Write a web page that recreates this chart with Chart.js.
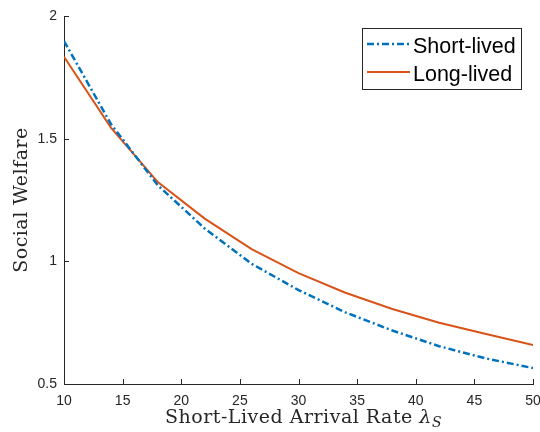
<!DOCTYPE html>
<html>
<head>
<meta charset="utf-8">
<script src="https://cdn.jsdelivr.net/npm/chart.js@4.4.1/dist/chart.umd.min.js"></script>
<style>
  html, body { margin: 0; padding: 0; background: #fff; }
  #wrap { width: 540px; height: 432px; }
</style>
</head>
<body>
<div id="wrap"><canvas id="myChart" width="540" height="432"></canvas></div>
<script>
// arrival rates sampled in the figure
const arrivalRates = [10, 14, 18, 22, 26, 30, 34, 38, 42, 46, 50];
const shortLived = [1.898, 1.560, 1.310, 1.134, 0.990, 0.883, 0.792, 0.718, 0.654, 0.604, 0.565];
const longLived = [1.834, 1.545, 1.323, 1.174, 1.050, 0.952, 0.872, 0.806, 0.750, 0.704, 0.659];
const seriesNames = ['Short-lived', 'Long-lived'];
const xTicks = [10, 15, 20, 25, 30, 35, 40, 45, 50];
const yTicks = [0.5, 1, 1.5, 2];

const axisColor = '#262626';
const tickFont = { family: 'Liberation Sans, Arial, sans-serif', size: 14 };
const serif = '"DejaVu Serif", "Liberation Serif", serif';

const toPoints = (ys) => ys.map((y, i) => ({ x: arrivalRates[i], y: y }));

// MATLAB style inward tick marks
const innerTicks = {
  id: 'innerTicks',
  afterDraw(chart) {
    const { ctx, chartArea, scales } = chart;
    ctx.save();
    ctx.strokeStyle = axisColor;
    ctx.lineWidth = 1;
    ctx.beginPath();
    xTicks.forEach((v) => {
      const px = Math.round(scales.x.getPixelForValue(v)) + 0.5;
      ctx.moveTo(px, chartArea.bottom);
      ctx.lineTo(px, chartArea.bottom - 5);
    });
    yTicks.forEach((v) => {
      const py = Math.round(scales.y.getPixelForValue(v)) + 0.5;
      ctx.moveTo(chartArea.left, py);
      ctx.lineTo(chartArea.left + 5, py);
    });
    ctx.stroke();
    ctx.restore();
  },
};

// axis titles, x one has the lambda_S subscript
const axisTitles = {
  id: 'axisTitles',
  afterDraw(chart) {
    const { ctx, chartArea } = chart;
    ctx.save();
    ctx.fillStyle = axisColor;
    ctx.textBaseline = 'alphabetic';
    ctx.letterSpacing = '0.5px';

    const main = 'Short-Lived Arrival Rate ';
    ctx.font = '19px ' + serif;
    const w1 = ctx.measureText(main).width;
    ctx.font = 'italic 19px ' + serif;
    const w2 = ctx.measureText('\u03bb').width;
    ctx.font = 'italic 14px ' + serif;
    const w3 = ctx.measureText('S').width;
    let x = (chartArea.left + chartArea.right) / 2 - (w1 + w2 + w3) / 2 + 5;
    const base = 423;
    ctx.textAlign = 'left';
    ctx.font = '19px ' + serif;
    ctx.fillText(main, x, base);
    x += w1;
    ctx.font = 'italic 19px ' + serif;
    ctx.fillText('\u03bb', x, base);
    x += w2;
    ctx.font = 'italic 14px ' + serif;
    ctx.fillText('S', x, base + 4);

    ctx.translate(27, (chartArea.top + chartArea.bottom) / 2);
    ctx.rotate(-Math.PI / 2);
    ctx.textAlign = 'center';
    ctx.font = '19px ' + serif;
    ctx.fillText('Social Welfare', 0, 0);
    ctx.restore();
  },
};

// boxed legend in the top right corner
const boxLegend = {
  id: 'boxLegend',
  afterDraw(chart) {
    const { ctx } = chart;
    ctx.save();
    ctx.fillStyle = '#fff';
    ctx.fillRect(362, 28, 159, 61);
    ctx.strokeStyle = axisColor;
    ctx.lineWidth = 1;
    ctx.strokeRect(362.5, 28.5, 159, 61);
    const rows = [44, 72];
    chart.data.datasets.forEach((ds, i) => {
      ctx.strokeStyle = ds.borderColor;
      ctx.lineWidth = ds.borderWidth;
      ctx.setLineDash(ds.borderDash || []);
      ctx.beginPath();
      ctx.moveTo(367, rows[i]);
      ctx.lineTo(410, rows[i]);
      ctx.stroke();
      ctx.setLineDash([]);
      ctx.fillStyle = '#000';
      ctx.font = '21.5px Liberation Sans, Arial, sans-serif';
      ctx.textBaseline = 'alphabetic';
      ctx.fillText(ds.label, 413, rows[i] + 9);
    });
    ctx.restore();
  },
};

const ctx = document.getElementById('myChart').getContext('2d');
const chartInstance = new Chart(ctx, {
  type: 'line',
  data: {
    datasets: [
      {
        label: seriesNames[0],
        data: toPoints(shortLived),
        borderColor: '#0072BD',
        borderWidth: 2.5,
        borderDash: [7, 3, 2, 3],
        pointRadius: 0,
        tension: 0,
        fill: false,
      },
      {
        label: seriesNames[1],
        data: toPoints(longLived),
        borderColor: '#D95319',
        borderWidth: 2,
        pointRadius: 0,
        tension: 0,
        fill: false,
      },
    ],
  },
  options: {
    responsive: false,
    animation: false,
    layout: { padding: { top: 16, right: 7, left: 0, bottom: 0 } },
    plugins: {
      legend: { display: false },
      tooltip: { enabled: false },
    },
    scales: {
      x: {
        type: 'linear',
        min: 10,
        max: 50,
        afterFit: (s) => { s.height = 48; s.paddingLeft = 0; s.paddingRight = 0; },
        afterBuildTicks: (s) => { s.ticks = xTicks.map((v) => ({ value: v })); },
        grid: { display: false, drawTicks: false },
        border: { display: true, color: axisColor, width: 1 },
        ticks: { color: axisColor, font: tickFont, padding: 9, maxRotation: 0, callback: (v) => String(v) },
      },
      y: {
        type: 'linear',
        min: 0.5,
        max: 2,
        afterFit: (s) => { s.width = 64; s.paddingTop = 0; s.paddingBottom = 0; },
        afterBuildTicks: (s) => { s.ticks = yTicks.map((v) => ({ value: v })); },
        grid: { display: false, drawTicks: false },
        border: { display: true, color: axisColor, width: 1 },
        ticks: { color: axisColor, font: tickFont, padding: 7, callback: (v) => String(v) },
      },
    },
  },
  plugins: [innerTicks, axisTitles, boxLegend],
});
</script>
</body>
</html>
